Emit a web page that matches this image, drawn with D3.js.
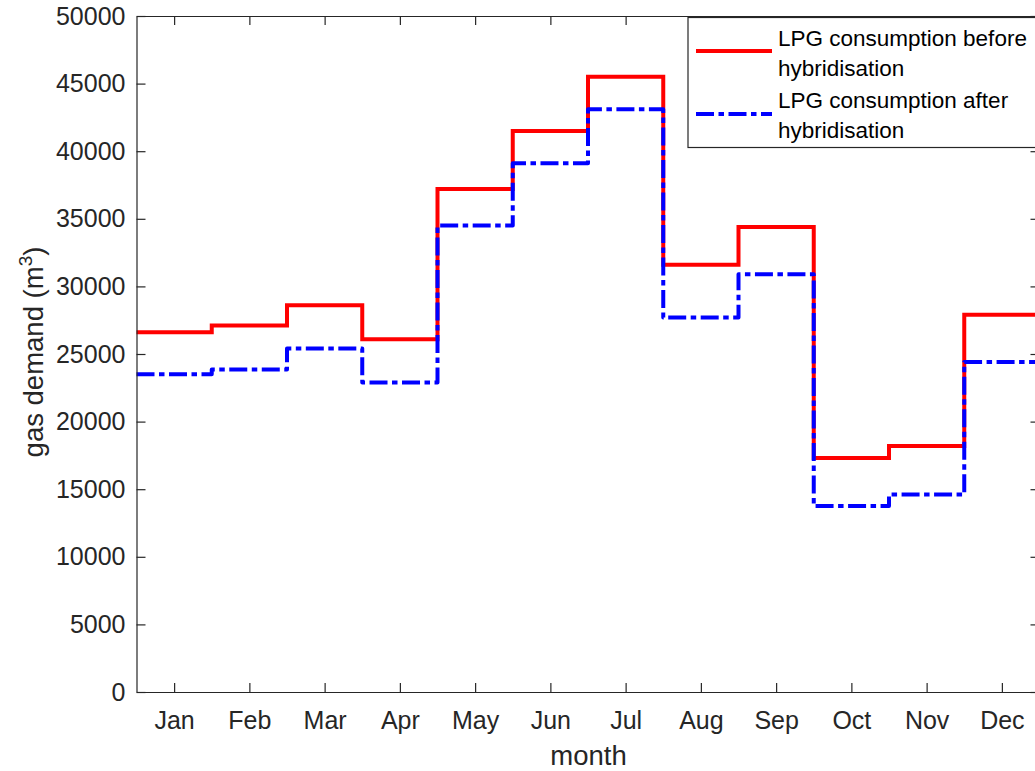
<!DOCTYPE html>
<html>
<head>
<meta charset="utf-8">
<script src="https://cdn.jsdelivr.net/npm/d3@7/dist/d3.min.js"></script>
<style>
  html, body { margin: 0; padding: 0; background: #fff; }
  svg { display: block; }
  text { font-family: "Liberation Sans", Arial, Helvetica, sans-serif; }
</style>
</head>
<body>
<svg id="chart" width="1035" height="771"></svg>
<script>
// Monthly LPG demand (m³), before and after hybridisation
const months = ["Jan", "Feb", "Mar", "Apr", "May", "Jun", "Jul", "Aug", "Sep", "Oct", "Nov", "Dec"];
const before = [26600, 27100, 28600, 26100, 37200, 41500, 45500, 31600, 34400, 17300, 18200, 27900];
const after  = [23500, 23850, 25400, 22900, 34500, 39100, 43100, 27700, 30900, 13750, 14600, 24400];
const yTicks = [0, 5000, 10000, 15000, 20000, 25000, 30000, 35000, 40000, 45000, 50000];
const legendLabels = [
  ["LPG consumption before", "hybridisation"],
  ["LPG consumption after", "hybridisation"]
];

const svg = d3.select("#chart");
const axisColor = "#262626";
const tickFont = 25;
const titleFont = 27.5;
const legendFont = 22.5;

const x = d3.scaleLinear().domain([0.5, 12.5]).range([136.5, 1039.5]);
const y = d3.scaleLinear().domain([0, 50000]).range([692, 16]);

// stairs: each month holds its level from m-0.5 to m+0.5
function stairPoints(vals) {
  const pts = vals.map((v, i) => [i + 0.5, v]);
  pts.push([vals.length + 0.5, vals[vals.length - 1]]);
  return pts;
}
const line = d3.line()
  .x(d => x(d[0]))
  .y(d => y(d[1]))
  .curve(d3.curveStepAfter);

const plot = svg.append("g");
plot.append("path")
  .datum(stairPoints(before))
  .attr("d", line)
  .attr("fill", "none")
  .attr("stroke", "#ff0000")
  .attr("stroke-width", 4)
  .attr("stroke-linejoin", "miter");
plot.append("path")
  .datum(stairPoints(after))
  .attr("d", line)
  .attr("fill", "none")
  .attr("stroke", "#0000ff")
  .attr("stroke-width", 4)
  .attr("stroke-linejoin", "round")
  .attr("stroke-dasharray", "18,4.5,5.5,4.5");

// axes (box with inward ticks)
const tickLen = 9;
const xAxisB = d3.axisBottom(x).tickValues(d3.range(1, 13)).tickSize(-tickLen).tickSizeOuter(0)
  .tickFormat(d => months[d - 1]).tickPadding(19);
const xAxisT = d3.axisTop(x).tickValues(d3.range(1, 13)).tickSize(-tickLen).tickSizeOuter(0)
  .tickFormat("");
const yAxisL = d3.axisLeft(y).tickValues(yTicks).tickSize(-tickLen).tickSizeOuter(0)
  .tickFormat(d3.format("d")).tickPadding(11);
const yAxisR = d3.axisRight(y).tickValues(yTicks).tickSize(-tickLen).tickSizeOuter(0)
  .tickFormat("");

function styleAxis(g) {
  g.select(".domain").attr("stroke", axisColor).attr("stroke-width", 1.2);
  g.selectAll(".tick line").attr("stroke", axisColor).attr("stroke-width", 1.2);
  g.selectAll(".tick text").attr("fill", axisColor).attr("font-size", tickFont)
    .attr("font-family", '"Liberation Sans", Arial, sans-serif');
}

svg.append("g").attr("transform", "translate(0,692)").call(xAxisB).call(styleAxis);
svg.append("g").attr("transform", "translate(0,16)").call(xAxisT).call(styleAxis);
svg.append("g").attr("transform", "translate(136.5,0)").call(yAxisL).call(styleAxis);
svg.append("g").attr("transform", "translate(1039.5,0)").call(yAxisR).call(styleAxis);

// axis titles
svg.append("text")
  .attr("x", 588.5)
  .attr("y", 765)
  .attr("text-anchor", "middle")
  .attr("font-size", titleFont)
  .attr("fill", axisColor)
  .text("month");

const yl = svg.append("text")
  .attr("transform", "translate(43,352) rotate(-90)")
  .attr("text-anchor", "middle")
  .attr("font-size", titleFont)
  .attr("fill", axisColor);
yl.append("tspan").text("gas demand (m");
yl.append("tspan").attr("font-size", 19).attr("dy", -11).text("3");
yl.append("tspan").attr("dy", 11).text(")");

// legend
const lg = svg.append("g");
lg.append("rect")
  .attr("x", 688).attr("y", 17.5)
  .attr("width", 400).attr("height", 130)
  .attr("fill", "#fff")
  .attr("stroke", axisColor)
  .attr("stroke-width", 1.2);
const legendItems = [
  { color: "#ff0000", dash: null, ly: 51, labels: legendLabels[0], ty: [46, 76] },
  { color: "#0000ff", dash: "18,4.5,5.5,4.5", ly: 114, labels: legendLabels[1], ty: [108, 138] }
];
legendItems.forEach(it => {
  const l = lg.append("line")
    .attr("x1", 696).attr("x2", 772)
    .attr("y1", it.ly).attr("y2", it.ly)
    .attr("stroke", it.color)
    .attr("stroke-width", 4);
  if (it.dash) l.attr("stroke-dasharray", it.dash);
  it.labels.forEach((t, k) => {
    lg.append("text")
      .attr("x", 778)
      .attr("y", it.ty[k])
      .attr("font-size", legendFont)
      .attr("fill", "#000")
      .text(t);
  });
});
</script>
</body>
</html>
